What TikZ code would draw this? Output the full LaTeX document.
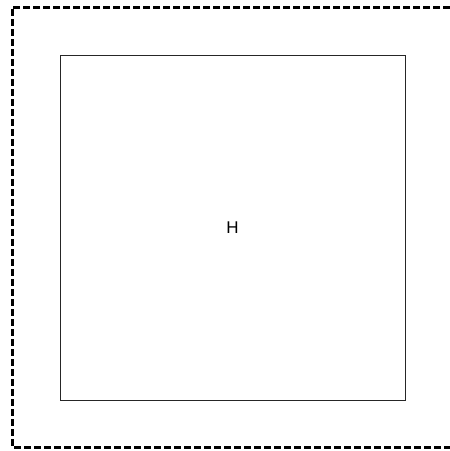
\documentclass[tikz,border=0pt]{standalone}
\usepackage{fontspec}
\setmainfont{Liberation Sans}
\usetikzlibrary{positioning}

\begin{document}
\begin{tikzpicture}[x=1pt, y=-1pt,
  outerbox/.style={draw=black, line width=3pt, dash pattern=on 7pt off 3pt},
  innerbox/.style={draw=black!85, line width=1pt, minimum size=345pt,
    inner sep=0pt, font=\fontsize{17}{19}\selectfont},
]
\useasboundingbox (0,0) rectangle (450,451);
% outer dashed frame (runs off the right edge)
\draw[outerbox] (470,7) -- (12,7) -- (12,447) -- (470,447);
% inner square with its label
\node[innerbox] (hbox) at (232.5,227.5) {H};
\end{tikzpicture}
\end{document}
